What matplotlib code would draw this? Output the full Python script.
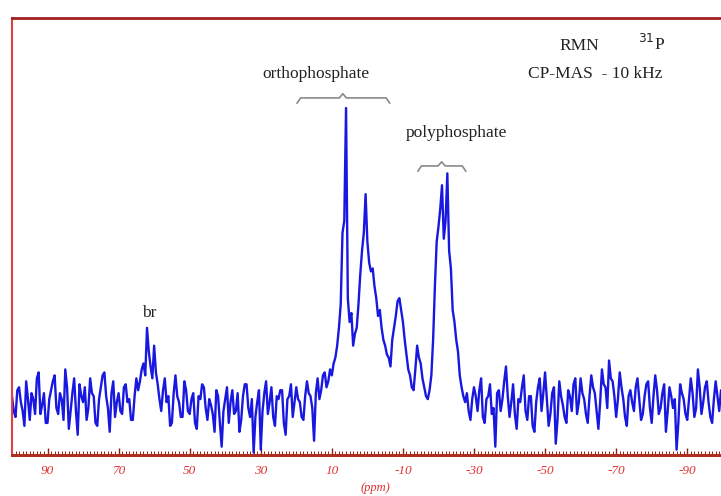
import numpy as np
import matplotlib
matplotlib.use("Agg")
import matplotlib.pyplot as plt

# 31P CP-MAS spectrum, intensity sampled every 0.5 ppm from 100 down to -100 ppm
shift_ppm = np.linspace(100, -100, 401)
intensity = [
    # 100 .. 90.5
    3, -2, -4, 5, 6, 1, -2, -7, 8, 2, -5, 4, 2, -3, 9, 11, -3, 0, 4, -6,
    # 90 .. 80.5
    -6, 2, 5, 8, 10, -1, -3, 4, 2, -5, 12, 6, -8, -2, 4, 9, -2, -10, 7, 3,
    # 80 .. 70.5
    1, 6, -5, -1, 9, 4, 3, -6, -7, 2, 6, 10, 11, 3, -1, -9, 4, 8, -4, 1,
    # 70 .. 60.5  (br)
    4, -2, -3, 6, 7, 1, 2, -5, -5, 3, 9, 5, 8, 12, 14, 10, 26, 18, 13, 9,
    # 60 .. 50.5
    20, 11, 7, 2, -2, 5, 9, 1, 3, -7, -6, 4, 10, 3, 1, -4, -4, 8, 5, -2,
    # 50 .. 40.5
    -3, 2, 4, -6, -8, 3, 2, 7, 6, -1, -5, 2, 0, -3, -9, 5, 3, -6, -14, -2,
    # 40 .. 30.5
    2, 6, -6, 1, 5, -3, -2, 4, -9, -5, 3, 7, 7, -1, -4, 2, -16, -4, 1, 5,
    # 30 .. 20.5
    -15, -2, 4, 8, -3, 1, 6, -4, -7, 3, 2, 5, 5, -6, -10, 2, 3, 7, -4, 1,
    # 20 .. 10.5
    6, 2, 1, -4, -5, 3, 8, 4, 3, -1, -12, 4, 9, 2, 5, 10, 11, 6, 8, 12,
    # 10 .. 0.5  (orthophosphate)
    10, 14, 16, 20, 26, 34, 58, 62, 100, 36, 28, 31, 20, 24, 26, 34, 44, 52, 58, 71,
    # 0 .. -9.5
    55, 48, 45, 46, 40, 36, 30, 32, 26, 22, 20, 17, 16, 13, 22, 26, 30, 35, 36, 32,
    # -10 .. -19.5
    28, 22, 17, 12, 10, 6, 5, 12, 20, 16, 14, 9, 6, 3, 2, 5, 10, 22, 40, 55,
    # -20 .. -29.5  (polyphosphate)
    60, 66, 74, 56, 62, 78, 52, 46, 32, 28, 22, 18, 10, 6, 3, 1, 4, -2, -5, 2,
    # -30 .. -39.5
    6, 3, -2, 5, 9, -4, -6, 2, 3, 7, -3, -1, -14, 4, 5, -2, 2, 8, 13, 3,
    # -40 .. -49.5
    -4, 1, 7, -3, -8, 2, 1, 6, 10, -2, -5, 3, 3, -7, -9, 1, 6, 9, -2, 4,
    # -50 .. -59.5
    11, 2, -7, -3, 4, 6, -13, -5, 8, 3, 0, -4, -6, 5, 3, -2, 7, 9, -3, 1,
    # -60 .. -69.5
    9, 4, 2, -3, -6, 3, 10, 6, 4, -2, -8, 1, 12, 7, 6, -1, 15, 9, 8, 3,
    # -70 .. -79.5
    -4, 2, 11, 6, 2, -4, -7, 3, 5, 1, -2, 6, 9, 2, -5, -3, 3, 7, 8, -1,
    # -80 .. -89.5
    -6, 3, 10, 5, -3, -1, 4, 7, -9, -2, 6, 3, -1, 2, -15, -6, 7, 4, 2, -3,
    # -90 .. -99.5
    -5, 2, 9, 4, -4, -1, 12, 6, -3, 1, 6, 8, 1, -4, -6, 2, 8, 3, -2, 5,
    # -100
    4,
]

tick_values = [90, 70, 50, 30, 10, -10, -30, -50, -70, -90]
tick_labels = ["90", "70", "50", "30", "10", "-10", "-30", "-50", "-70", "-90"]

serif = ["Liberation Serif", "DejaVu Serif"]

fig = plt.figure(figsize=(7.21, 4.96), dpi=100)
ax = fig.add_axes([0.0166, 0.0827, 0.9834, 0.881])

ax.plot(shift_ppm, intensity, color="#1818e0", lw=1.7)

ax.set_xlim(100, -99.5)
ax.set_ylim(-16.8, 130.3)

# frame: red left border, dark red top rule, no right border
ax.spines["right"].set_visible(False)
ax.spines["left"].set_color("#e04040")
ax.spines["left"].set_linewidth(1.5)
ax.spines["top"].set_color("#a02020")
ax.spines["top"].set_linewidth(2.0)
ax.spines["bottom"].set_color("#b03020")
ax.spines["bottom"].set_linewidth(2.2)

ax.set_yticks([])
ax.set_xticks(tick_values)
ax.set_xticklabels(tick_labels, family=serif, style="italic",
                   fontsize=9.5, color="#e03030")
ax.set_xticks(np.arange(100, -100, -1), minor=True)
ax.tick_params(axis="x", which="major", direction="in", length=5,
               width=1.0, color="#902010", pad=7)
ax.tick_params(axis="x", which="minor", direction="in", length=3,
               width=0.7, color="#902010")
ax.set_xlabel("(ppm)", family=serif, style="italic", fontsize=9,
              color="#e03030", va="center")
ax.xaxis.set_label_coords(0.512, -0.075)

# annotations
txt = dict(family=serif, fontsize=12.5, color="#222222")
ax.text(14.5, 111.5, "orthophosphate", ha="center", va="center", **txt)
ax.text(-25, 91.5, "polyphosphate", ha="center", va="center", **txt)
ax.text(61.3, 31, "br", ha="center", va="center", **txt)
ax.text(-59.7, 121, "RMN", ha="center", va="center", **txt)
ax.text(-80, 121.5, r"$^{31}$P", ha="center", va="center", **txt)
ax.text(-64, 111.5, "CP-MAS  - 10 kHz", ha="center", va="center", **txt)


def brace(x0, x1, xc, y):
    ax.plot([x0, x0 - 1.0, xc + 1.0, xc, xc - 1.0, x1 + 1.0, x1],
            [y - 1.8, y, y, y + 1.4, y, y, y - 1.8],
            color="#8a8a8a", lw=1.2, solid_capstyle="round")


brace(19.8, -6.3, 6.9, 103.4)
brace(-14.2, -27.7, -20.9, 80.5)

fig.savefig("out.png", dpi=100)
